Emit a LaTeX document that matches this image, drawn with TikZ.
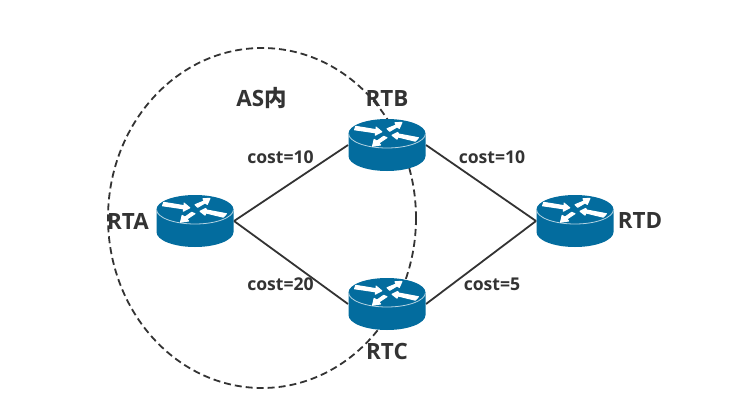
\documentclass[tikz,border=0pt]{standalone}
\usepackage{fontspec}
\setmainfont{Open Sans}
\newfontfamily\cjk{Noto Sans CJK SC}
\definecolor{routerblue}{HTML}{036C9E}
\definecolor{inkgrey}{HTML}{333333}
\tikzset{
  x=1pt,y=-1pt,
  routerbox/.style={minimum width=78pt,minimum height=52pt,inner sep=0pt,outer sep=0pt},
  link/.style={draw=inkgrey,line width=1.8pt},
  boundary/.style={draw=inkgrey,line width=1.8pt,dash pattern=on 7pt off 4pt},
  biglabel/.style={font=\fontsize{22.4}{24}\selectfont\bfseries,text=inkgrey,inner sep=0pt},
  costlabel/.style={font=\fontsize{17.6}{19}\selectfont\bfseries,text=inkgrey,inner sep=0pt},
  flowshape/.style={fill=white,draw=white,line width=1pt,line join=round},
  router/.pic={
    \fill[routerblue] (-38.5,-12) -- (-38.5,11) .. controls (-38.5,19.3) and (-21.3,26) .. (0,26) .. controls (21.3,26) and (38.5,19.3) .. (38.5,11) -- (38.5,-12) -- cycle;
    \fill[routerblue] (0,-11.5) ellipse[x radius=38.5,y radius=14.5];
    \draw[white!70!routerblue,line width=.8pt] (-38.5,-11.5) .. controls (-38.5,-3.5) and (-21.3,3) .. (0,3) .. controls (21.3,3) and (38.5,-3.5) .. (38.5,-11.5);
    \path[flowshape] (-31.3,-18.7) -- (-10.7,-15.3) -- (-11,-18) -- (-5.2,-13.2) -- (-11.7,-9.8) -- (-11.7,-12.2) -- (-32.5,-15.2) -- cycle;
    \path[flowshape] (15,-22.6) -- (8,-22.4) -- (9,-20) -- (0,-16.3) -- (2.7,-13.7) -- (10,-18) -- (12.3,-16.6) -- cycle;
    \path[flowshape] (5,-9.7) -- (10.7,-12.6) -- (11.7,-11) -- (31.5,-7.3) -- (28.3,-3.8) -- (11,-8) -- (10,-5.8) -- cycle;
    \path[flowshape] (-14.5,1.3) -- (-12.9,-5.6) -- (-10,-4) -- (-3.3,-8.7) -- (0,-7.3) -- (-8,-2) -- (-6.4,0) -- cycle;
  }
}
\begin{document}
\begin{tikzpicture}
\useasboundingbox (0,0) rectangle (752,420);
\fill[white] (0,0) rectangle (752,420);
\node[routerbox] (rta) at (195,221) {};
\node[routerbox] (rtb) at (387,145) {};
\node[routerbox] (rtc) at (387,304) {};
\node[routerbox] (rtd) at (575,221) {};
\path[boundary] (262,218) ellipse[x radius=154,y radius=170];
\draw[link] (rta.east) -- (rtb.west);
\draw[link] (rta.east) -- (rtc.west);
\draw[link] (rtb.east) -- (rtd.west);
\draw[link] (rtc.east) -- (rtd.west);
\pic at (rta.center) {router};
\pic at (rtb.center) {router};
\pic at (rtc.center) {router};
\pic at (rtd.center) {router};
\node[biglabel] (lrta) at (128,221) {RTA};
\node[biglabel] (lrtb) at (387,98.5) {RTB};
\node[biglabel] (lrtc) at (387,351.5) {RTC};
\node[biglabel] (lrtd) at (640,221) {RTD};
\node[biglabel] (las) at (261.5,98.5) {AS{\cjk 内}};
\node[costlabel] (c1) at (280.5,157.5) {cost=10};
\node[costlabel] (c2) at (280.5,284.5) {cost=20};
\node[costlabel] (c3) at (492,157.5) {cost=10};
\node[costlabel] (c4) at (492,284.5) {cost=5};
\end{tikzpicture}
\end{document}
